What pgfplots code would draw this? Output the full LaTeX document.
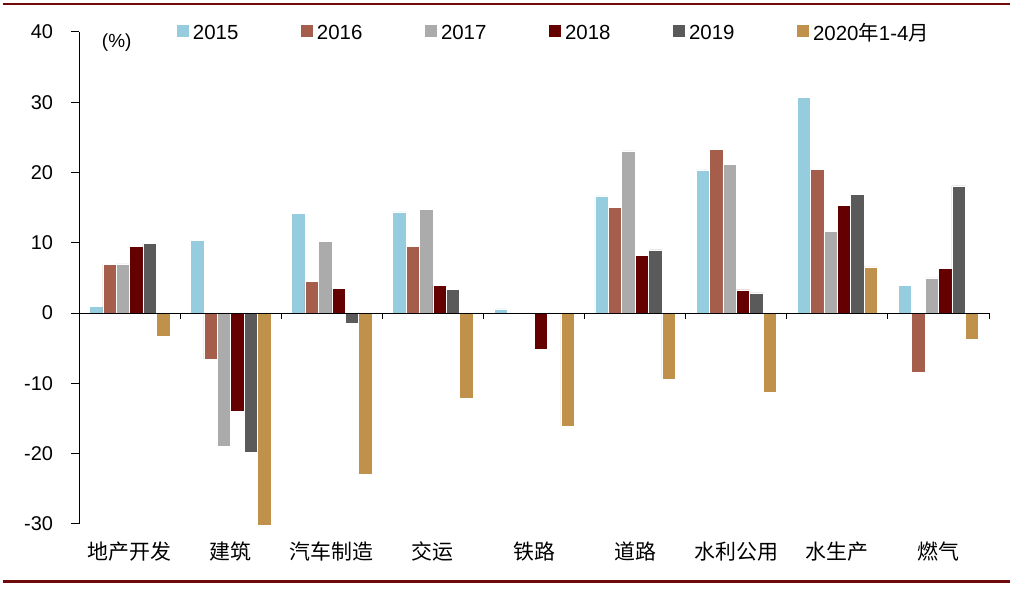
\documentclass[border=0pt]{standalone}
\usepackage{pgfplots}
\pgfplotsset{compat=1.18}
\usepackage{pgfplotstable}
\usepackage{fontspec}
\setmainfont{Liberation Sans}
\newfontfamily\cjk{Noto Sans CJK SC}
\definecolor{c15}{HTML}{96CDDE}
\definecolor{c16}{HTML}{A65E4C}
\definecolor{c17}{HTML}{ABABAB}
\definecolor{c18}{HTML}{650000}
\definecolor{c19}{HTML}{5A5A5A}
\definecolor{c20}{HTML}{C0914A}
\definecolor{topred}{HTML}{6E0A0A}
\pgfplotstableread{
x y15 y16 y17 y18 y19 y20
0 1.0 6.9 7.0 9.5 9.9 -3.3
1 10.3 -6.5 -19.0 -13.9 -19.8 -30.2
2 14.2 4.5 10.2 3.5 -1.5 -22.9
3 14.4 9.5 14.8 3.9 3.4 -12.1
4 0.6 -0.2 -0.1 -5.1 -0.1 -16.1
5 16.7 15.1 23.1 8.2 9.0 -9.4
6 20.4 23.3 21.2 3.3 2.9 -11.2
7 30.7 20.5 11.6 15.3 16.9 6.6
8 4.0 -8.4 5.0 6.4 18.1 -3.75
}\datatable
\begin{document}
\begin{tikzpicture}
\path[use as bounding box] (0,0) rectangle (1013bp,589bp);
\draw[topred, line width=2.8bp] (2.7bp,585bp) -- (1010bp,585bp);
\draw[topred, line width=3bp] (2.7bp,7.5bp) -- (1010bp,7.5bp);
\begin{axis}[
  at={(79bp,65bp)}, anchor=south west,
  scale only axis, width=910bp, height=492bp,
  ybar=0pt, bar width=13.4bp,
  xmin=-0.5, xmax=8.5, ymin=-30, ymax=40,
  axis y line*=left, axis x line*=bottom,
  x axis line style={draw=none},
  y axis line style={line width=1bp, black},
  xtick={0,...,8},
  xticklabels={地产开发,建筑,汽车制造,交运,铁路,道路,水利公用,水生产,燃气},
  xtick style={draw=none},
  xticklabel style={font=\cjk\fontsize{21}{24}\selectfont, anchor=center, yshift=-20bp},
  ytick={-30,-20,-10,0,10,20,30,40},
  yticklabels={-30,-20,-10,0,10,20,30,40},
  ytick style={line width=1bp, black},
  yticklabel style={font=\fontsize{20}{24}\selectfont, anchor=east, xshift=-15bp},
  tick align=outside, major tick length=7.5bp,
  legend columns=6,
  legend image code/.code={\fill[#1,draw=none] (0bp,-4bp) rectangle (12bp,8bp);},
  legend style={draw=none, fill=none, at={(0.1074,0.998)}, anchor=west,
    inner sep=0pt, font=\fontsize{20.5}{24}\selectfont,
    nodes={inner sep=2bp},
    /tikz/every odd column/.append style={column sep=2bp},
    /tikz/every even column/.append style={column sep=60.6bp}},
  every axis plot/.append style={draw=white, line width=0.5bp},
  clip=false,
]
\addplot[fill=c15] table[x=x,y=y15]{\datatable};
\addplot[fill=c16] table[x=x,y=y16]{\datatable};
\addplot[fill=c17] table[x=x,y=y17]{\datatable};
\addplot[fill=c18] table[x=x,y=y18]{\datatable};
\addplot[fill=c19] table[x=x,y=y19]{\datatable};
\addplot[fill=c20] table[x=x,y=y20]{\datatable};
\legend{2015,2016,2017,2018,2019,{2020{\cjk 年}1-4{\cjk 月}}}
\draw[black, line width=1bp] (axis cs:-0.5,0) -- (axis cs:8.5,0);
\pgfplotsinvokeforeach{0.5,1.5,2.5,3.5,4.5,5.5,6.5,7.5,8.5}{
  \draw[black, line width=1bp] (axis cs:#1,0) -- ([yshift=-6bp]axis cs:#1,0);
}
\end{axis}
\node[font=\fontsize{19}{23}\selectfont] at (116.7bp,546bp) {(\%)};
\end{tikzpicture}
\end{document}
